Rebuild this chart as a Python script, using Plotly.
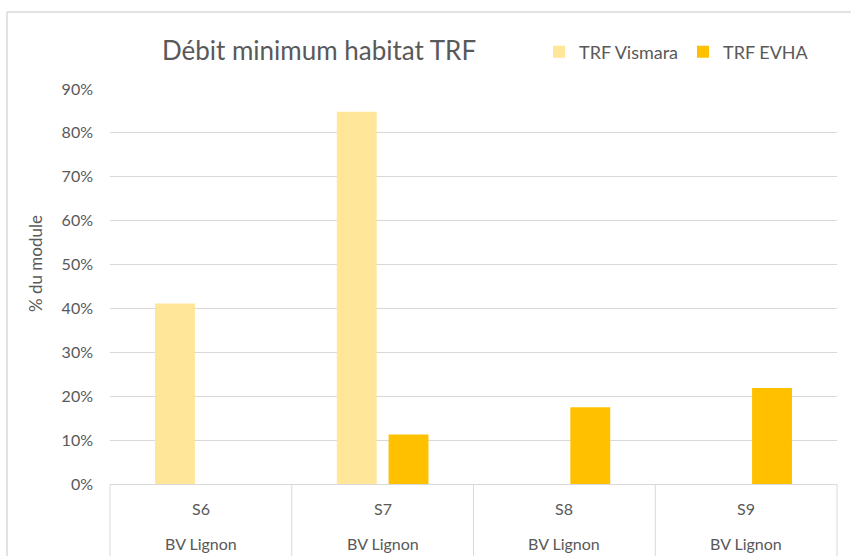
import plotly.graph_objects as go

# Stations and basin
stations = ["S6", "S7", "S8", "S9"]
basin = ["BV Lignon", "BV Lignon", "BV Lignon", "BV Lignon"]

# Minimum habitat flow, share of mean annual flow (module)
trf_vismara = [0.411, 0.848, None, None]
trf_evha = [None, 0.113, 0.175, 0.219]

y_ticks = [0, 0.1, 0.2, 0.3, 0.4, 0.5, 0.6, 0.7, 0.8, 0.9]

FONT = "Lato"
TXT = "#595959"
GRID = "#D9D9D9"

W, H = 851, 556
ML, MR, MT, MB = 110, 14, 89, 72
PW, PH = W - ML - MR, H - MT - MB

fig = go.Figure()
fig.add_trace(go.Bar(name="TRF Vismara", x=stations, y=trf_vismara,
                     marker=dict(color="#FFE699", line=dict(width=0))))
fig.add_trace(go.Bar(name="TRF EVHA", x=stations, y=trf_evha,
                     marker=dict(color="#FFC000", line=dict(width=0))))


def px_x(px):
    return (px - ML) / PW


def px_y(py):
    return (H - MB - py) / PH


shapes = []
# category separators running down through both label rows
n = len(stations)
for k in range(n + 1):
    shapes.append(dict(type="line", xref="paper", yref="paper",
                       x0=k / n, x1=k / n, y0=0, y1=px_y(H + 2),
                       line=dict(color=GRID, width=1)))
# outer chart frame
shapes.append(dict(type="line", xref="paper", yref="paper",
                   x0=px_x(7), x1=px_x(7), y0=px_y(12), y1=px_y(H + 2),
                   line=dict(color=GRID, width=1.5)))
shapes.append(dict(type="line", xref="paper", yref="paper",
                   x0=px_x(7), x1=px_x(W + 2), y0=px_y(12), y1=px_y(12),
                   line=dict(color=GRID, width=1.5)))

annotations = []
for i, (s, b) in enumerate(zip(stations, basin)):
    xc = (i + 0.5) / n
    annotations.append(dict(x=xc, y=px_y(508), xref="paper", yref="paper",
                            text=s, showarrow=False, xanchor="center", yanchor="middle",
                            font=dict(family=FONT, size=16, color=TXT)))
    annotations.append(dict(x=xc, y=px_y(543), xref="paper", yref="paper",
                            text=b, showarrow=False, xanchor="center", yanchor="middle",
                            font=dict(family=FONT, size=16, color=TXT)))
annotations.append(dict(x=px_x(35), y=px_y(264), xref="paper", yref="paper",
                        text="% du module", textangle=-90, showarrow=False,
                        xanchor="center", yanchor="middle",
                        font=dict(family=FONT, size=17, color=TXT)))

fig.update_layout(
    width=W, height=H,
    margin=dict(l=ML, r=MR, t=MT, b=MB, autoexpand=False),
    paper_bgcolor="white", plot_bgcolor="white",
    barmode="group", bargap=0.43, bargroupgap=0.23,
    title=dict(text="Débit minimum habitat TRF", xref="container", yref="container",
               x=319 / W, y=1 - 51 / H, xanchor="center", yanchor="middle",
               font=dict(family=FONT, size=26, color=TXT)),
    legend=dict(orientation="h", x=px_x(539), y=px_y(52), xanchor="left", yanchor="middle",
                font=dict(family=FONT, size=18, color=TXT), bgcolor="rgba(0,0,0,0)",
                entrywidth=99, entrywidthmode="pixels", itemclick=False),
    xaxis=dict(type="category", showticklabels=False, showgrid=False,
               showline=True, linecolor=GRID, linewidth=1, ticks="",
               range=[-0.5, n - 0.5], fixedrange=True),
    yaxis=dict(range=[0, 0.9], tickvals=y_ticks, tickformat=".0%",
               showgrid=True, gridcolor=GRID, gridwidth=1.3, zeroline=False,
               showline=False, ticks="", ticklabelstandoff=16,
               tickfont=dict(family=FONT, size=16, color=TXT), fixedrange=True),
    shapes=shapes,
    annotations=annotations,
)

fig.write_html("out.html")
